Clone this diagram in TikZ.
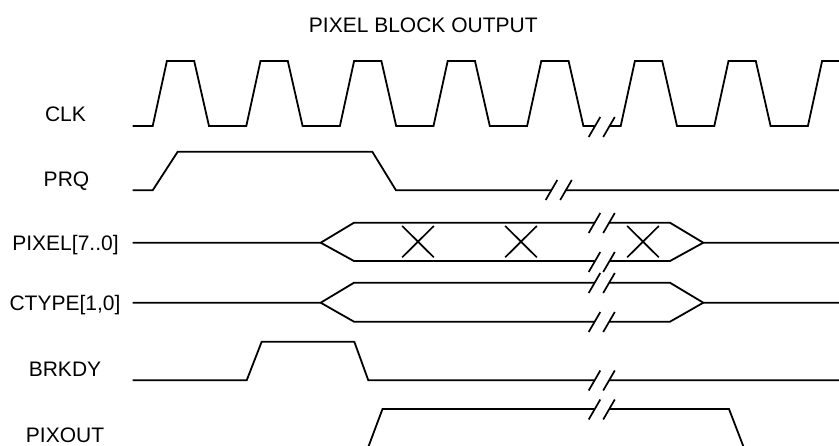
\documentclass[tikz,border=0pt]{standalone}
\usepackage{fontspec}
\setmainfont{Liberation Sans}
\newcommand{\slashpair}[3]{%
  \draw[brk] ({#1-5.8},{#3+10}) -- ({#1+5.8},{#3-10});
  \draw[brk] ({#2-5.8},{#3+10}) -- ({#2+5.8},{#3-10});}
\begin{document}
\begin{tikzpicture}[x=1pt,y=-1pt,
  sig/.style={draw, line width=1.8pt},
  brk/.style={line width=1.7pt},
  lbl/.style={anchor=base, inner sep=0pt, font=\fontsize{21}{25}\selectfont}]
\useasboundingbox (0,0) rectangle (839,445);
% labels
\node[lbl] (title) at (423.3,32.3) {PIXEL BLOCK OUTPUT};
\node[lbl] (clk) at (65.5,121.7) {CLK};
\node[lbl] (prq) at (66.5,186) {PRQ};
\node[lbl] (pixel) at (65.5,250) {PIXEL[7..0]};
\node[lbl] (ctype) at (65,310) {CTYPE[1,0]};
\node[lbl] (brkdy) at (65,376) {BRKDY};
\node[lbl] (pixout) at (65,442.3) {PIXOUT};
% CLK
\draw[sig] (132.7,126) \foreach \r in {152.7,246.3,339.9,433.5,527.1} { -- (\r,126) -- ({\r+14.2},61) -- ({\r+41.5},61) -- ({\r+56.3},126) } -- (594.5,126);
\draw[sig] (609,126) \foreach \r in {620.7,714.3} { -- (\r,126) -- ({\r+14.2},61) -- ({\r+41.5},61) -- ({\r+56.3},126) } -- (807.9,126) -- (822.1,61) -- (839,61);
\slashpair{594.5}{609}{127}
% PRQ
\draw[sig] (132.7,190.3) -- (152.7,190.3) -- (177.7,151.7) -- (372.3,151.7) -- (396,190.3) -- (551.5,190.3) (566,190.3) -- (839,190.3);
\slashpair{551.5}{566}{190}
% PIXEL
\draw[sig] (132.7,242.7) -- (320.7,242.7) -- (354,222.7) -- (594.5,222.7) (609,222.7) -- (670,222.7) -- (703.3,242.7) -- (839,242.7);
\draw[sig] (320.7,242.7) -- (354,261) -- (594.5,261) (609,261) -- (670,261) -- (703.3,242.7);
\foreach \c in {418,521,643} \draw[brk] ({\c-15.8},226) -- ({\c+15.8},257.3) ({\c-15.8},257.3) -- ({\c+15.8},226);
\slashpair{594.5}{609}{223}
\slashpair{594.5}{609}{262}
% CTYPE
\draw[sig] (132.7,302.7) -- (320.7,302.7) -- (354,282.7) -- (594.5,282.7) (609,282.7) -- (670,282.7) -- (703.3,302.7) -- (839,302.7);
\draw[sig] (320.7,302.7) -- (354,321.7) -- (594.5,321.7) (609,321.7) -- (670,321.7) -- (703.3,302.7);
\slashpair{594.5}{609}{283}
\slashpair{594.5}{609}{322}
% BRKDY
\draw[sig] (132.7,380.3) -- (246.7,380.3) -- (261.7,341.7) -- (354.3,341.7) -- (368.3,380.3) -- (594.5,380.3) (609,380.3) -- (839,380.3);
\slashpair{594.5}{609}{380.5}
% PIXOUT
\draw[sig] (368.3,447) -- (382.5,409) -- (594.5,409) (609,409) -- (729,409) -- (743.6,447);
\slashpair{594.5}{609}{409.5}
\end{tikzpicture}
\end{document}
